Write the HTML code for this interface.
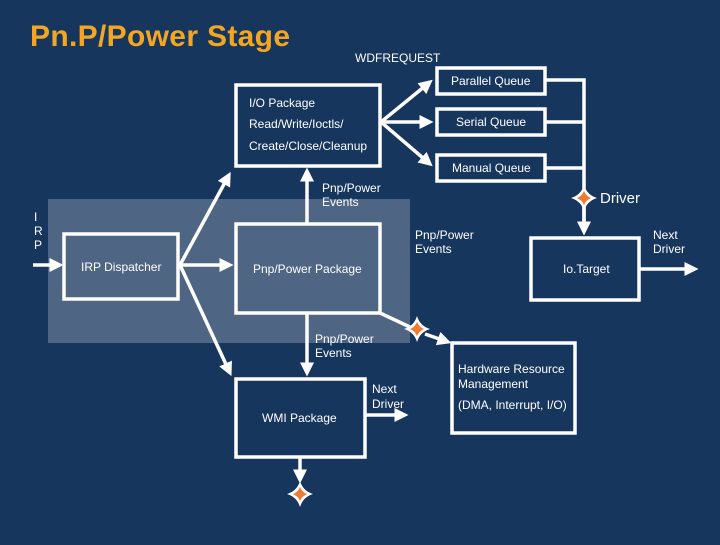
<!DOCTYPE html>
<html><head><style>
html,body{margin:0;padding:0}
body{width:720px;height:540px;background:#17365d;overflow:hidden;font-family:"Liberation Sans",sans-serif}
</style></head><body>
<svg width="720" height="540" xmlns="http://www.w3.org/2000/svg" font-family="Liberation Sans, sans-serif">
<defs>
<marker id="a" markerWidth="4" markerHeight="4" refX="3" refY="2" orient="auto" markerUnits="strokeWidth"><path d="M0,0 L4,2 L0,4 Z" fill="#fff"/></marker>
<g id="star"><path d="M0,-13 Q3,-3 13,0 Q3,3 0,13 Q-3,3 -13,0 Q-3,-3 0,-13Z" fill="#fff"/><path d="M0,-7 Q2,-2 7,0 Q2,2 0,7 Q-2,2 -7,0 Q-2,-2 0,-7Z" fill="#f07a30"/></g>
</defs>
<rect width="720" height="540" fill="#17365d"/>
<rect x="48" y="199" width="362" height="144" fill="#4f6584"/>
<text x="30" y="46" font-size="30" font-weight="bold" fill="#f4a623" textLength="260">Pn.P/Power Stage</text>
<text x="355" y="62" font-size="12" fill="#fff">WDFREQUEST</text>
<g fill="none" stroke="#fff" stroke-width="3.5">
<rect x="236" y="85" width="144" height="81"/>
<rect x="437" y="68" width="108" height="26"/>
<rect x="437" y="109" width="108" height="26"/>
<rect x="437" y="155" width="108" height="26"/>
<rect x="64" y="234" width="114" height="65"/>
<rect x="236" y="224" width="144" height="89"/>
<rect x="531" y="238" width="108" height="62"/>
<rect x="236" y="379" width="129" height="78"/>
<rect x="452" y="343" width="123" height="90"/>
<polyline points="545,80 584,80 584,232"/>
<line x1="545" y1="122" x2="584" y2="122"/>
<line x1="545" y1="168" x2="584" y2="168"/>
</g>
<g stroke="#fff" stroke-width="3.5" fill="none" marker-end="url(#a)">
<line x1="381" y1="122" x2="430" y2="82"/>
<line x1="381" y1="122" x2="430" y2="122"/>
<line x1="381" y1="122" x2="430" y2="164"/>
<line x1="584" y1="205" x2="584" y2="232"/>
<line x1="640" y1="269" x2="695" y2="269"/>
<line x1="33" y1="265" x2="60" y2="265"/>
<line x1="180" y1="265" x2="230" y2="265"/>
<line x1="180" y1="265" x2="229" y2="175"/>
<line x1="180" y1="265" x2="230" y2="373"/>
<line x1="307" y1="223" x2="307" y2="171"/>
<line x1="307" y1="313" x2="307" y2="373"/>
<line x1="366" y1="415" x2="405" y2="415"/>
<line x1="425" y1="334" x2="448" y2="342"/>
<line x1="300" y1="458" x2="300" y2="480"/>
</g>
<line x1="380" y1="313" x2="412" y2="328" stroke="#fff" stroke-width="3.5"/>
<use href="#star" x="584" y="198"/>
<use href="#star" x="417" y="329"/>
<use href="#star" x="300" y="494"/>
<g fill="#fff" font-size="12">
<text x="451" y="85">Parallel Queue</text>
<text x="456" y="126">Serial Queue</text>
<text x="452" y="172">Manual Queue</text>
<text x="249" y="107">I/O Package</text>
<text x="249" y="128">Read/Write/Ioctls/</text>
<text x="249" y="150">Create/Close/Cleanup</text>
<text x="322" y="192">Pnp/Power</text>
<text x="322" y="206">Events</text>
<text x="600" y="203" font-size="15">Driver</text>
<text x="34" y="221">I</text>
<text x="34" y="235">R</text>
<text x="34" y="249">P</text>
<text x="81" y="271">IRP Dispatcher</text>
<text x="253" y="273">Pnp/Power Package</text>
<text x="415" y="239">Pnp/Power</text>
<text x="415" y="253">Events</text>
<text x="653" y="239">Next</text>
<text x="653" y="253">Driver</text>
<text x="563" y="273">Io.Target</text>
<text x="315" y="343">Pnp/Power</text>
<text x="315" y="357">Events</text>
<text x="458" y="373">Hardware Resource</text>
<text x="458" y="388">Management</text>
<text x="458" y="409">(DMA, Interrupt, I/O)</text>
<text x="372" y="393">Next</text>
<text x="372" y="408">Driver</text>
<text x="262" y="422">WMI Package</text>
</g>
</svg>
</body></html>
